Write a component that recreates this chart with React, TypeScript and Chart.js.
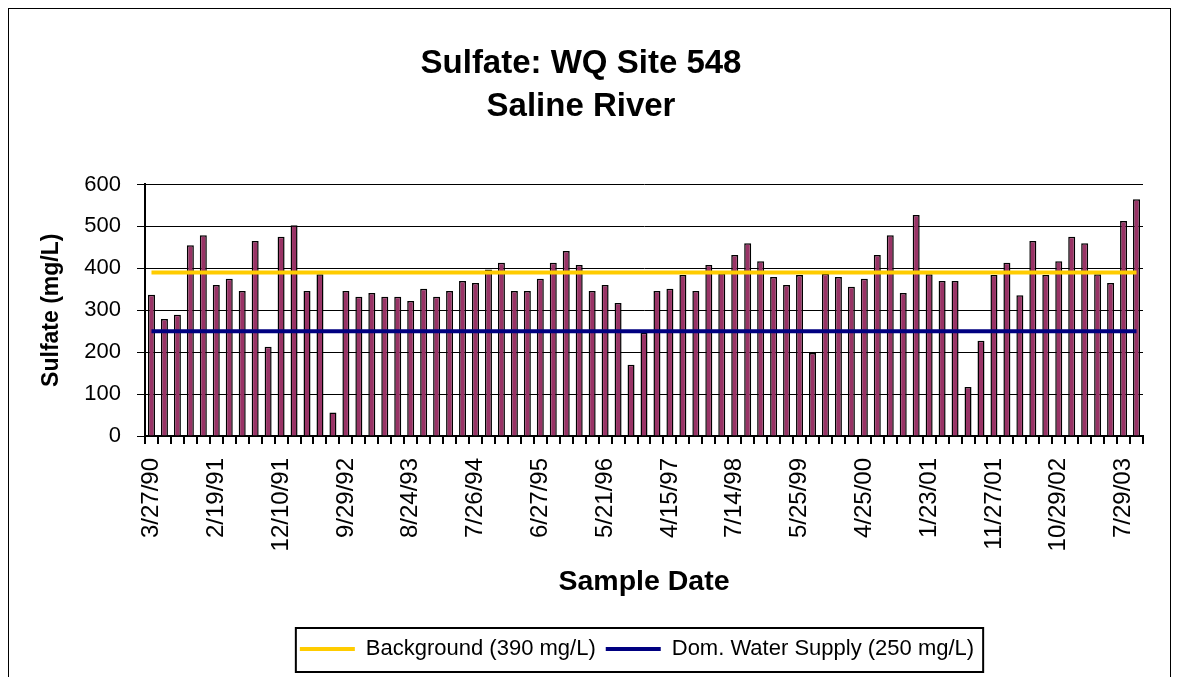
import React, { useEffect, useRef } from "react";
import { Chart, registerables } from "chart.js";

Chart.register(...registerables);

// Tick labels shown on the category axis (every 5th sample)
const tickLabels = [
  "3/27/90", "2/19/91", "12/10/91", "9/29/92", "8/24/93", "7/26/94", "6/27/95", "5/21/96",
  "4/15/97", "7/14/98", "5/25/99", "4/25/00", "1/23/01", "11/27/01", "10/29/02", "7/29/03",
];
const LABEL_EVERY = 5;

// Sulfate concentrations (mg/L), one per sample
const sulfate = [
  337, 279, 289, 455, 479, 360, 375, 346, 465, 213,
  475, 503, 346, 386, 56, 346, 332, 341, 332, 332,
  322, 351, 332, 346, 370, 365, 397, 413, 346, 346,
  375, 413, 441, 408, 346, 360, 317, 170, 246, 346,
  351, 384, 346, 408, 388, 432, 460, 417, 379, 360,
  384, 198, 387, 379, 356, 375, 432, 479, 341, 527,
  386, 370, 370, 117, 227, 384, 413, 336, 465, 384,
  417, 475, 460, 386, 365, 513, 565,
];

const BACKGROUND = 390;
const DOM_SUPPLY = 250;

const yTicks = [0, 100, 200, 300, 400, 500, 600];

const categories = sulfate.map((_, i) =>
  i % LABEL_EVERY === 0 ? tickLabels[i / LABEL_EVERY] ?? "" : ""
);
const backgroundLine = sulfate.map(() => BACKGROUND);
const supplyLine = sulfate.map(() => DOM_SUPPLY);

const FONT = "'Liberation Sans', Arial, sans-serif";

const legendBoxPlugin = {
  id: "legendBox",
  afterLayout(chart: any) {
    const lg = chart.legend;
    const ca = chart.chartArea;
    if (lg && ca) {
      const target = (ca.left + ca.right) / 2 - 7;
      const cur = (lg.left + lg.right) / 2;
      const shift = target - cur;
      lg.left += shift;
      lg.right += shift;
    }
    const tt = chart.titleBlock;
    if (tt) {
      tt.left += 5;
      tt.right += 5;
    }
  },
  afterDraw(chart: any) {
    const lg = chart.legend;
    if (!lg || !lg.legendHitBoxes || !lg.legendHitBoxes.length) return;
    const hb = lg.legendHitBoxes;
    const first = hb[0];
    const last = hb[hb.length - 1];
    const left = first.left - 4;
    const right = last.left + last.width + 9;
    const top = first.top - 10;
    const bottom = first.top + first.height + 12;
    const ctx = chart.ctx;
    ctx.save();
    ctx.strokeStyle = "#000";
    ctx.lineWidth = 2;
    ctx.strokeRect(left, top, right - left, bottom - top);
    ctx.restore();
  },
};

export default function App() {
  const canvasRef = useRef<HTMLCanvasElement | null>(null);

  useEffect(() => {
    document.body.style.overflow = "hidden";
    const canvas = canvasRef.current;
    if (!canvas) return;
    Chart.defaults.font.family = FONT;
    Chart.defaults.color = "#000";

    const chart = new Chart(canvas, {
      type: "bar",
      data: {
        labels: categories,
        datasets: [
          {
            type: "line",
            label: "Background (390 mg/L)",
            data: backgroundLine,
            borderColor: "#FFCC00",
            backgroundColor: "#FFCC00",
            borderWidth: 4,
            pointRadius: 0,
            order: 0,
          } as any,
          {
            type: "line",
            label: "Dom. Water Supply (250 mg/L)",
            data: supplyLine,
            borderColor: "#000080",
            backgroundColor: "#000080",
            borderWidth: 4,
            pointRadius: 0,
            order: 0,
          } as any,
          {
            type: "bar",
            label: "Sulfate",
            data: sulfate,
            backgroundColor: "#993366",
            borderColor: "#000",
            borderWidth: 1.5,
            barPercentage: 0.54,
            categoryPercentage: 1.0,
            order: 1,
          } as any,
        ],
      },
      options: {
        responsive: false,
        animation: false,
        layout: { padding: { left: 0, right: 27, top: 0, bottom: 7 } },
        plugins: {
          title: {
            display: true,
            text: ["Sulfate: WQ Site 548", "Saline River"],
            font: { family: FONT, size: 33, weight: "bold", lineHeight: 1.31 },
            color: "#000",
            padding: { top: 33, bottom: 56 },
          },
          legend: {
            display: true,
            position: "bottom",
            labels: {
              font: { family: FONT, size: 22 },
              color: "#000",
              usePointStyle: true,
              pointStyle: "line",
              pointStyleWidth: 55,
              padding: 10,
              filter: (item: any) => item.datasetIndex < 2,
            },
          },
          tooltip: { enabled: false },
        },
        scales: {
          x: {
            type: "category",
            offset: true,
            afterFit: (scale: any) => {
              scale.height = 192;
              scale.paddingLeft = 0;
              scale.paddingRight = 0;
            },
            grid: {
              offset: true,
              drawOnChartArea: false,
              drawTicks: true,
              tickLength: 8,
              color: "#000",
              lineWidth: 2,
            },
            border: { color: "#000", width: 2 },
            ticks: {
              autoSkip: false,
              minRotation: 90,
              maxRotation: 90,
              padding: 14,
              color: "#000",
              font: { family: FONT, size: 24 },
            },
            title: {
              display: true,
              text: "Sample Date",
              color: "#000",
              font: { family: FONT, size: 28.5, weight: "bold" },
              padding: { top: 0, bottom: 29 },
            },
          },
          y: {
            min: 0,
            max: 600,
            afterFit: (scale: any) => {
              scale.width = 136;
            },
            afterBuildTicks: (scale: any) => {
              scale.ticks = yTicks.map((v) => ({ value: v }));
            },
            grid: {
              color: "#000",
              lineWidth: 1,
              drawTicks: true,
              tickLength: 8,
            },
            border: { color: "#000", width: 2 },
            ticks: {
              padding: 16,
              color: "#000",
              font: { family: FONT, size: 22 },
            },
            title: {
              display: true,
              text: "Sulfate (mg/L)",
              color: "#000",
              font: { family: FONT, size: 23, weight: "bold" },
              padding: { top: 29, bottom: 0 },
            },
          },
        },
      },
      plugins: [legendBoxPlugin],
    } as any);

    return () => {
      chart.destroy();
    };
  }, []);

  return (
    <div
      style={{
        width: 1161,
        height: 668,
        borderTop: "1px solid #000",
        borderLeft: "1px solid #000",
        borderRight: "1px solid #000",
        background: "#fff",
      }}
    >
      <canvas ref={canvasRef} width={1161} height={668} style={{ display: "block" }} />
    </div>
  );
}
